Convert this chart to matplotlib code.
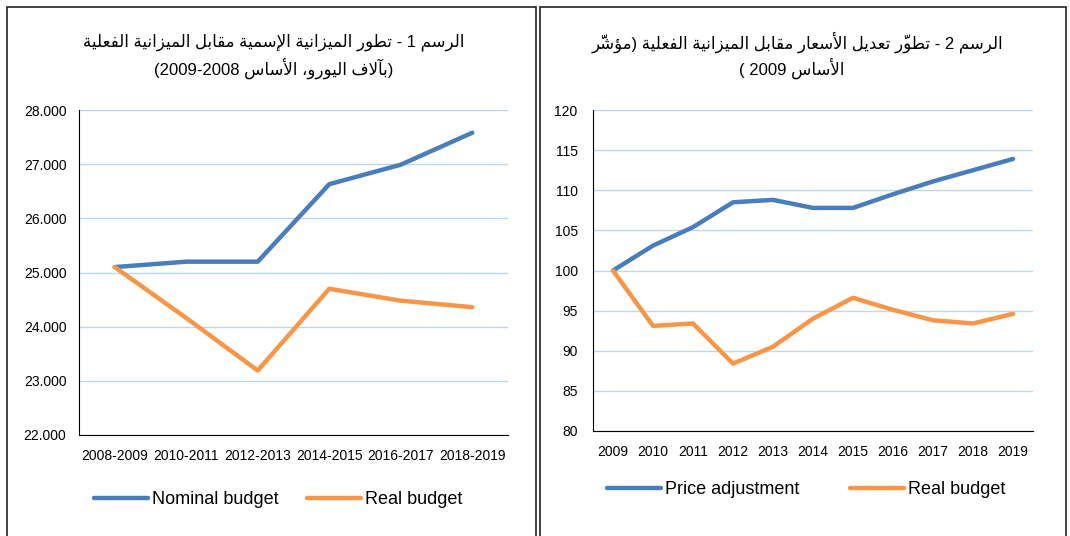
import numpy as np
import matplotlib
matplotlib.use("Agg")
import matplotlib.pyplot as plt
from matplotlib.patches import Rectangle
from matplotlib.ticker import FuncFormatter

plt.rcParams['font.family'] = ['Liberation Sans', 'DejaVu Sans']

# Données
periods = ["2008-2009", "2010-2011", "2012-2013", "2014-2015", "2016-2017", "2018-2019"]
nominal_budget = [25100, 25200, 25200, 26630, 26990, 27580]
real_budget_1 = [25100, 24160, 23190, 24700, 24480, 24360]

years = ["2009", "2010", "2011", "2012", "2013", "2014", "2015", "2016", "2017", "2018", "2019"]
price_adjustment = [100, 103.1, 105.4, 108.5, 108.8, 107.8, 107.8, 109.5, 111.1, 112.5, 113.9]
real_budget_2 = [100, 93.1, 93.4, 88.4, 90.5, 94.0, 96.6, 95.1, 93.8, 93.4, 94.6]

title1 = ["الرسم 1 - تطور الميزانية الإسمية مقابل الميزانية الفعلية",
          "(بآلاف اليورو، الأساس 2008-2009)"]
title2 = ["الرسم 2 - تطوّر تعديل الأسعار مقابل الميزانية الفعلية (مؤشّر",
          "الأساس 2009 )"]

BLUE = '#4A7EBB'
ORANGE = '#F79646'
GRID = '#BDD7EE'

# ---- mise en forme de l'arabe (pas de raqm dans matplotlib) ----
# formes: isolée, finale, initiale, médiane (None si la lettre ne se lie pas à la suivante)
FORMS = {
    'ا': (0xFE8D, 0xFE8E, None, None), 'آ': (0xFE81, 0xFE82, None, None),
    'أ': (0xFE83, 0xFE84, None, None), 'ؤ': (0xFE85, 0xFE86, None, None),
    'إ': (0xFE87, 0xFE88, None, None), 'ب': (0xFE8F, 0xFE90, 0xFE91, 0xFE92),
    'ة': (0xFE93, 0xFE94, None, None), 'ت': (0xFE95, 0xFE96, 0xFE97, 0xFE98),
    'د': (0xFEA9, 0xFEAA, None, None), 'ر': (0xFEAD, 0xFEAE, None, None),
    'ز': (0xFEAF, 0xFEB0, None, None), 'س': (0xFEB1, 0xFEB2, 0xFEB3, 0xFEB4),
    'ش': (0xFEB5, 0xFEB6, 0xFEB7, 0xFEB8), 'ط': (0xFEC1, 0xFEC2, 0xFEC3, 0xFEC4),
    'ع': (0xFEC9, 0xFECA, 0xFECB, 0xFECC), 'ف': (0xFED1, 0xFED2, 0xFED3, 0xFED4),
    'ق': (0xFED5, 0xFED6, 0xFED7, 0xFED8), 'ل': (0xFEDD, 0xFEDE, 0xFEDF, 0xFEE0),
    'م': (0xFEE1, 0xFEE2, 0xFEE3, 0xFEE4), 'ن': (0xFEE5, 0xFEE6, 0xFEE7, 0xFEE8),
    'و': (0xFEED, 0xFEEE, None, None), 'ي': (0xFEF1, 0xFEF2, 0xFEF3, 0xFEF4),
    'لآ': (0xFEF5, 0xFEF6, None, None), 'لأ': (0xFEF7, 0xFEF8, None, None),
    'لإ': (0xFEF9, 0xFEFA, None, None), 'لا': (0xFEFB, 0xFEFC, None, None),
}
MARKS = set(chr(c) for c in range(0x064B, 0x0653))


def arabic(text):
    # grappes: lettre (ou lam-alef) + signes diacritiques
    clusters = []
    i = 0
    while i < len(text):
        c = text[i]
        if c in MARKS and clusters:
            clusters[-1][1] += c
        elif c == 'ل' and i + 1 < len(text) and 'ل' + text[i + 1] in FORMS:
            clusters.append(['ل' + text[i + 1], ''])
            i += 1
        else:
            clusters.append([c, ''])
        i += 1
    out = []
    for k, (base, marks) in enumerate(clusters):
        if base in FORMS:
            iso, fin, ini, med = FORMS[base]
            prev = clusters[k - 1][0] if k > 0 else None
            nxt = clusters[k + 1][0] if k + 1 < len(clusters) else None
            joins_prev = prev in FORMS and FORMS[prev][2] is not None
            joins_next = ini is not None and nxt in FORMS
            if joins_prev and joins_next:
                g = med
            elif joins_prev:
                g = fin
            elif joins_next:
                g = ini
            else:
                g = iso
            # le signe est dessiné avant la lettre pour tomber au-dessus d'elle
            out.append(marks + chr(g))
        else:
            out.append(marks + base)
    out = out[::-1]
    # les chiffres restent de gauche à droite
    res, run = [], []
    for s in out:
        if s.isdigit():
            run.append(s)
        else:
            res.extend(run[::-1])
            run = []
            res.append({'(': ')', ')': '('}.get(s, s))
    res.extend(run[::-1])
    return ''.join(res)


def thousands(v, pos):
    return f"{v:,.0f}".replace(',', '.')


fig = plt.figure(figsize=(10.7, 5.36), dpi=100)

# cadres des deux panneaux
for x0, x1 in [(7, 536), (540, 1066)]:
    fig.add_artist(Rectangle((x0 / 1070, -0.05), (x1 - x0) / 1070, 1.05 - 7 / 536,
                             transform=fig.transFigure, fill=False,
                             edgecolor='#222222', linewidth=1.2))

ax1 = fig.add_axes([79 / 1070, 1 - 435 / 536, 429 / 1070, 325 / 536])
ax2 = fig.add_axes([593 / 1070, 1 - 431 / 536, 440 / 1070, 321 / 536])

x1 = np.arange(len(periods))
ax1.plot(x1, nominal_budget, color=BLUE, lw=3.2, solid_capstyle='round', label='Nominal budget')
ax1.plot(x1, real_budget_1, color=ORANGE, lw=3.2, solid_capstyle='round', label='Real budget')
ax1.set_xlim(-0.5, len(periods) - 0.5)
ax1.set_ylim(22000, 28000)
ax1.set_yticks(np.arange(22000, 28001, 1000))
ax1.yaxis.set_major_formatter(FuncFormatter(thousands))
ax1.set_xticks(x1)
ax1.set_xticklabels(periods)
ax1.tick_params(axis='y', length=0, pad=9, labelsize=10)
ax1.tick_params(axis='x', length=0, pad=10, labelsize=10)

x2 = np.arange(len(years))
ax2.plot(x2, price_adjustment, color=BLUE, lw=3.2, solid_capstyle='round', label='Price adjustment')
ax2.plot(x2, real_budget_2, color=ORANGE, lw=3.2, solid_capstyle='round', label='Real budget')
ax2.set_xlim(-0.5, len(years) - 0.5)
ax2.set_ylim(80, 120)
ax2.set_yticks(np.arange(80, 121, 5))
ax2.set_xticks(x2)
ax2.set_xticklabels(years)
ax2.tick_params(axis='y', length=0, pad=11, labelsize=10)
ax2.tick_params(axis='x', length=0, pad=10, labelsize=10)

for ax in (ax1, ax2):
    ax.grid(axis='y', color=GRID, lw=1)
    ax.set_axisbelow(True)
    for s in ('top', 'right'):
        ax.spines[s].set_visible(False)
    ax.spines['left'].set_color('black')
    ax.spines['bottom'].set_color('black')

ax1.legend(loc='center', bbox_to_anchor=(278 / 1070, 1 - 500 / 536),
           bbox_transform=fig.transFigure, ncol=2, frameon=False, fontsize=13,
           handlelength=3.0, handletextpad=0.2, columnspacing=1.6)
ax2.legend(loc='center', bbox_to_anchor=(806 / 1070, 1 - 490 / 536),
           bbox_transform=fig.transFigure, ncol=2, frameon=False, fontsize=13,
           handlelength=3.0, handletextpad=0.2, columnspacing=2.8)

fig.text(274 / 1070, 1 - 42 / 536, arabic(title1[0]), ha='center', va='center', fontsize=12)
fig.text(274 / 1070, 1 - 68 / 536, arabic(title1[1]), ha='center', va='center', fontsize=12)
fig.text(797 / 1070, 1 - 42 / 536, arabic(title2[0]), ha='center', va='center', fontsize=12)
fig.text(792 / 1070, 1 - 68 / 536, arabic(title2[1]), ha='center', va='center', fontsize=12)

fig.savefig('out.png', dpi=100)
